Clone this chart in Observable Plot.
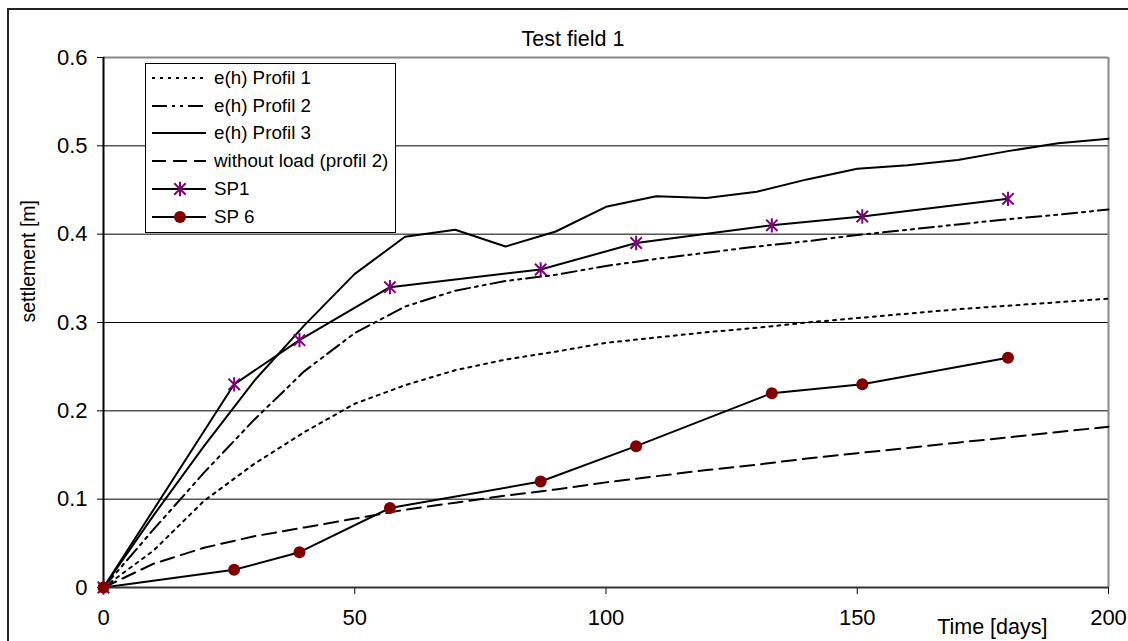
<!DOCTYPE html>
<html>
<head>
<meta charset="utf-8">
<script src="https://cdn.jsdelivr.net/npm/d3@7"></script>
<script src="https://cdn.jsdelivr.net/npm/@observablehq/plot@0.6"></script>
<style>
  html, body { margin: 0; padding: 0; background: #fff; overflow: hidden; }
  #wrap { position: relative; width: 1128px; height: 641px; font-family: "Liberation Sans", Arial, sans-serif; }
  #border { position: absolute; left: 7px; top: 8px; width: 1200px; height: 700px; border: 2px solid #222; box-sizing: border-box; }
  #chart { position: absolute; left: 0; top: 0; }
  #legend { position: absolute; left: 145px; top: 63px; width: 251px; height: 170px; box-sizing: border-box;
            border: 1px solid #000; background: #fff; }
  .row { height: 27.8px; display: flex; align-items: center; font-size: 18.8px; color: #000; white-space: nowrap; }
  .row svg { margin-left: 5px; margin-right: 7px; flex: none; }
</style>
</head>
<body>
<div id="wrap">
  <div id="border"></div>
  <div id="chart"></div>
  <div id="legend"></div>
</div>
<script>
// ---- data ----
const days = [0, 10, 20, 30, 40, 50, 60, 70, 80, 90, 100, 110, 120, 130, 140, 150, 160, 170, 180, 190, 200];
const profil1 = [0, 0.042, 0.098, 0.140, 0.176, 0.208, 0.229, 0.246, 0.258, 0.267, 0.277, 0.283, 0.289, 0.294, 0.300, 0.305, 0.310, 0.315, 0.319, 0.323, 0.327];
const profil2 = [0, 0.066, 0.130, 0.190, 0.245, 0.288, 0.318, 0.336, 0.347, 0.354, 0.364, 0.372, 0.379, 0.386, 0.392, 0.399, 0.405, 0.411, 0.417, 0.422, 0.428];
const profil3 = [0, 0.082, 0.160, 0.234, 0.297, 0.355, 0.397, 0.405, 0.386, 0.403, 0.431, 0.443, 0.441, 0.448, 0.462, 0.474, 0.478, 0.484, 0.494, 0.503, 0.508];
const withoutLoad = [0, 0.027, 0.045, 0.058, 0.068, 0.078, 0.088, 0.096, 0.104, 0.111, 0.119, 0.126, 0.133, 0.139, 0.146, 0.152, 0.158, 0.164, 0.170, 0.176, 0.182];
const spDays = [0, 26, 39, 57, 87, 106, 133, 151, 180];
const sp1 = [0, 0.23, 0.28, 0.34, 0.36, 0.39, 0.41, 0.42, 0.44];
const sp6 = [0, 0.02, 0.04, 0.09, 0.12, 0.16, 0.22, 0.23, 0.26];
const xTicks = [0, 50, 100, 150, 200];
const yTicks = [0, 0.1, 0.2, 0.3, 0.4, 0.5, 0.6];
const yTickLabels = ["0", "0.1", "0.2", "0.3", "0.4", "0.5", "0.6"];
const gridY = [0.1, 0.2, 0.3, 0.4, 0.5];
const seriesNames = ["e(h) Profil 1", "e(h) Profil 2", "e(h) Profil 3", "without load (profil 2)", "SP1", "SP 6"];
const title = "Test field 1";
const xLabel = "Time [days]";
const yLabel = "settlement [m]";

// ---- styles ----
const dashes = ["3,5", "15,5,3,5,3,5", null, "14,7", null, null];
const markerColors = { sp1: "#800080", sp6: "#800000" };

// Excel-style star marker: vertical bar plus an X
const starSymbol = {
  draw(context, size) {
    const r = Math.sqrt(size) * 0.62;
    const d = r * 0.8;
    context.moveTo(0, -r); context.lineTo(0, r);
    context.moveTo(-d, -d); context.lineTo(d, d);
    context.moveTo(-d, d); context.lineTo(d, -d);
  }
};

const toRows = (ys, xs) => ys.map((v, i) => ({ x: xs[i], y: v }));

const chart = Plot.plot({
  width: 1128,
  height: 641,
  marginLeft: 103,
  marginRight: 20,
  marginTop: 57,
  marginBottom: 54,
  style: { fontFamily: '"Liberation Sans", Arial, sans-serif', fontSize: "22px", background: "transparent", color: "#000" },
  x: { domain: [0, 200] },
  y: { domain: [0, 0.6] },
  marks: [
    Plot.ruleY(gridY, { stroke: "#000", strokeWidth: 1 }),
    Plot.ruleY([yTicks[yTicks.length - 1]], { stroke: "#888", strokeWidth: 2 }),
    Plot.ruleX([xTicks[xTicks.length - 1]], { stroke: "#888", strokeWidth: 2 }),
    Plot.axisY({ ticks: yTicks, tickSize: 6, tickPadding: 10, tickFormat: (d, i) => yTickLabels[i], label: null, fontSize: 22 }),
    Plot.axisX({ ticks: xTicks, tickSize: 7, tickPadding: 15, label: null, fontSize: 22 }),
    Plot.line(toRows(profil1, days), { x: "x", y: "y", stroke: "#000", strokeWidth: 2, strokeDasharray: dashes[0] }),
    Plot.line(toRows(profil2, days), { x: "x", y: "y", stroke: "#000", strokeWidth: 2, strokeDasharray: dashes[1] }),
    Plot.line(toRows(profil3, days), { x: "x", y: "y", stroke: "#000", strokeWidth: 2 }),
    Plot.line(toRows(withoutLoad, days), { x: "x", y: "y", stroke: "#000", strokeWidth: 2, strokeDasharray: dashes[3] }),
    Plot.line(toRows(sp1, spDays), { x: "x", y: "y", stroke: "#000", strokeWidth: 2 }),
    Plot.line(toRows(sp6, spDays), { x: "x", y: "y", stroke: "#000", strokeWidth: 2 }),
    Plot.ruleX([0], { stroke: "#000", strokeWidth: 2 }),
    Plot.ruleY([0], { stroke: "#333", strokeWidth: 2 }),
    Plot.dot(toRows(sp1, spDays), { x: "x", y: "y", symbol: starSymbol, r: 6.5, stroke: markerColors.sp1, strokeWidth: 2 }),
    Plot.dot(toRows(sp6, spDays), { x: "x", y: "y", r: 6, fill: markerColors.sp6, stroke: "none" }),
    Plot.text([title], { frameAnchor: "top", lineAnchor: "middle", dx: -33, dy: -18, fontSize: 21.5, fill: "#000" }),
    Plot.text([xLabel], { frameAnchor: "bottom-right", lineAnchor: "middle", textAnchor: "end", dx: -61, dy: 40, fontSize: 21.5, fill: "#000" }),
    Plot.text([yLabel], { frameAnchor: "left", lineAnchor: "middle", rotate: -90, dx: -75, fontSize: 19.5, fill: "#000" })
  ]
});
document.getElementById("chart").appendChild(chart);

// ---- legend ----
const legend = d3.select("#legend");
seriesNames.forEach((name, i) => {
  const row = legend.append("div").attr("class", "row");
  const svg = row.append("svg").attr("width", 56).attr("height", 16);
  svg.append("line").attr("x1", 1).attr("x2", 55).attr("y1", 8).attr("y2", 8)
    .attr("stroke", "#000").attr("stroke-width", 2)
    .attr("stroke-dasharray", dashes[i]);
  if (i === 4) {
    svg.append("path").attr("transform", "translate(29,8)")
      .attr("d", d3.symbol(starSymbol, 133)())
      .attr("stroke", markerColors.sp1).attr("stroke-width", 2).attr("fill", "none");
  }
  if (i === 5) {
    svg.append("circle").attr("cx", 29).attr("cy", 8).attr("r", 6).attr("fill", markerColors.sp6);
  }
  row.append("span").text(name);
});
</script>
</body>
</html>
